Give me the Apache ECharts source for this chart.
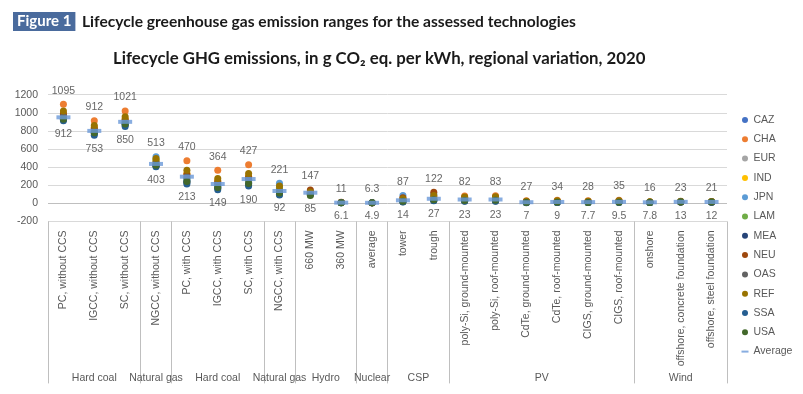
<!DOCTYPE html>
<html>
<head>
<meta charset="utf-8">
<script src="https://cdn.jsdelivr.net/npm/echarts@6/dist/echarts.min.js"></script>
<style>
html,body{margin:0;padding:0;background:#fff;}
#chart{width:803px;height:394px;}
</style>
</head>
<body>
<div id="chart"></div>
<script>
// ---- Data ----
const categories = [
  'PC, without CCS','IGCC, without CCS','SC, without CCS','NGCC, without CCS',
  'PC, with CCS','IGCC, with CCS','SC, with CCS','NGCC, with CCS',
  '660 MW','360 MW','average','tower','trough',
  'poly-Si, ground-mounted','poly-Si, roof-mounted','CdTe, ground-mounted','CdTe, roof-mounted',
  'CIGS, ground-mounted','CIGS, roof-mounted',
  'onshore','offshore, concrete foundation','offshore, steel foundation'
];
const groupNames = ['Hard coal','Natural gas','Hard coal','Natural gas','Hydro','Nuclear','CSP','PV','Wind'];
const groupSizes = [3,1,3,1,2,1,2,6,3];
const yTicks = [-200,0,200,400,600,800,1000,1200];

const regions = ['CAZ','CHA','EUR','IND','JPN','LAM','MEA','NEU','OAS','REF','SSA','USA'];
const regionColors = ['#4472C4','#ED7D31','#A5A5A5','#FFC000','#5B9BD5','#70AD47','#264478','#9E480E','#636363','#997300','#255E91','#43682B'];

const CAZ = [935,785,880,425,250,180,225,120,110,7,5.3,25,40,35,36,10,12,11,13,10,15,14];
const CHA = [1095,912,1021,470,470,364,427,165,130,9,5.8,45,75,82,83,27,34,28,35,14,20,19];
const EUR = [945,790,885,420,260,190,235,125,115,6.8,5.1,30,45,40,41,12,14,12,15,11,14,13];
const IND = [985,840,930,455,330,250,300,150,120,8,5.6,35,55,60,61,18,22,19,24,13,18,17];
const JPN = [940,785,880,513,255,185,230,221,112,7.2,5.2,87,100,45,46,13,15,13,16,12,17,16];
const LAM = [960,800,900,480,280,210,255,175,100,6.5,5.4,20,35,30,31,9,11,10,12,9,16,15];
const MEA = [925,770,865,410,230,165,205,100,105,7.5,5.5,18,30,25,26,8,10,9,11,8.5,13.5,12.5];
const NEU = [990,830,925,430,320,240,290,130,147,11,6.3,60,122,55,56,16,19,17,21,10.5,14.5,13.5];
const OAS = [960,805,900,450,290,215,265,145,118,7.8,5.7,40,60,65,66,20,24,21,26,13,19,18];
const REF = [1020,860,955,495,365,275,330,190,125,8.5,6.0,50,85,70,71,22,27,23,29,16,23,21];
const SSA = [912,753,850,403,213,149,190,92,95,6.3,5.0,14,27,23,23,7,9,7.7,9.5,7.8,13,12];
const USA = [930,780,875,420,240,175,220,115,85,6.1,4.9,22,38,32,33,9.5,11,10,12,9.5,15,14];
const average = [950,800,900,435,294,213,268,136,117,7,5.5,33,50,42,42,12,15,13,16,11,16,15];

const regionData = [CAZ,CHA,EUR,IND,JPN,LAM,MEA,NEU,OAS,REF,SSA,USA];

// ---- Derived ----
const maxVals = categories.map((c,i)=>Math.max(...regionData.map(a=>a[i])));
const minVals = categories.map((c,i)=>Math.min(...regionData.map(a=>a[i])));
const groupStarts = [];
const groupCenters = {};
{ let s = 0; groupSizes.forEach((n,g)=>{ groupStarts.push(s); groupCenters[(s + n/2).toFixed(1)] = groupNames[g]; s += n; }); }

const SMALL = 'Liberation Sans, Arial, sans-serif';
const TITLEF = 'Lato, "Noto Sans", sans-serif';

const series = regions.map((r,k)=>({
  name: r, type: 'scatter', xAxisIndex: 0, yAxisIndex: 0,
  data: regionData[k], symbol: 'circle', symbolSize: 7,
  itemStyle: {color: regionColors[k], opacity: 1},
  emphasis: {disabled: true}, z: 2
}));
series.push({
  name: 'Average', type: 'scatter', data: average, symbol: 'rect', symbolSize: [14,4],
  itemStyle: {color: '#6A98D8'}, z: 3, emphasis: {disabled: true}
});
series.push({
  name: 'maxLabel', type: 'scatter', data: maxVals, symbolSize: 0.1,
  itemStyle: {color: 'rgba(0,0,0,0)'}, silent: true, z: 4,
  label: {show: true, position: 'top', distance: 8, color: '#404040', fontSize: 10.5, fontFamily: SMALL,
          formatter: p => String(p.value)}
});
series.push({
  name: 'minLabel', type: 'scatter', data: minVals, symbolSize: 0.1,
  itemStyle: {color: 'rgba(0,0,0,0)'}, silent: true, z: 4,
  label: {show: true, position: 'bottom', distance: 8, color: '#404040', fontSize: 10.5, fontFamily: SMALL,
          formatter: p => String(p.value)}
});

const legendData = regions.map(r=>({name: r, icon: 'circle'}));
legendData.push({name: 'Average', icon: 'path://M0,0H7V2H0Z'});

const chart = echarts.init(document.getElementById('chart'), null, {renderer: 'canvas'});
chart.setOption({
  animation: false,
  backgroundColor: '#fff',
  title: [
    {text: 'Figure 1', left: 13, top: 12, padding: [2,4,2,4], backgroundColor: '#4A6B9D',
     textStyle: {color: '#fff', fontSize: 15, fontWeight: 'bold', fontFamily: TITLEF}},
    {text: 'Lifecycle greenhouse gas emission ranges for the assessed technologies', left: 80, top: 12, padding: [2,2,2,2],
     textStyle: {color: '#1a1a1a', fontSize: 15.6, fontWeight: 'bold', fontFamily: TITLEF}},
    {text: 'Lifecycle GHG emissions, in g CO\u2082 eq. per kWh, regional variation, 2020', left: 113, top: 50, padding: 0,
     textStyle: {color: '#1a1a1a', fontSize: 16.8, fontWeight: 'bold', fontFamily: TITLEF}}
  ],
  legend: {
    orient: 'vertical', left: 741.5, top: 114, padding: 0, itemWidth: 7, itemHeight: 6, itemGap: 7.3,
    data: legendData, selectedMode: false,
    textStyle: {color: '#595959', fontSize: 10.5, fontFamily: SMALL, lineHeight: 12}
  },
  grid: {left: 48, right: 76, top: 94.7, bottom: 172.6, containLabel: false},
  xAxis: [
    {type: 'category', data: categories, position: 'bottom', boundaryGap: true,
     axisLine: {show: false, onZero: false},
     axisTick: {show: true, length: 162, interval: (i)=>groupStarts.includes(i), lineStyle: {color: '#BFBFBF'}},
     axisLabel: {interval: 0, rotate: 90, margin: 9, color: '#595959', fontSize: 10.5, fontFamily: SMALL},
     splitLine: {show: false}},
    {type: 'value', min: 0, max: categories.length, interval: 0.5, position: 'bottom',
     axisLine: {show: false, onZero: false}, axisTick: {show: false}, splitLine: {show: false},
     axisLabel: {margin: 151, color: '#595959', fontSize: 10.5, fontFamily: SMALL,
       showMinLabel: true, showMaxLabel: true,
       formatter: v => groupCenters[Number(v).toFixed(1)] || ''}}
  ],
  yAxis: {
    type: 'value', min: yTicks[0], max: yTicks[yTicks.length-1], interval: 200,
    axisLine: {show: false}, axisTick: {show: false},
    axisLabel: {margin: 10, color: '#595959', fontSize: 10.5, fontFamily: SMALL, formatter: v => String(v)},
    splitLine: {show: true, lineStyle: {color: yTicks.map(t => t === 0 ? '#BFBFBF' : '#D9D9D9'), width: 1}}
  },
  series: series
});
</script>
</body>
</html>
